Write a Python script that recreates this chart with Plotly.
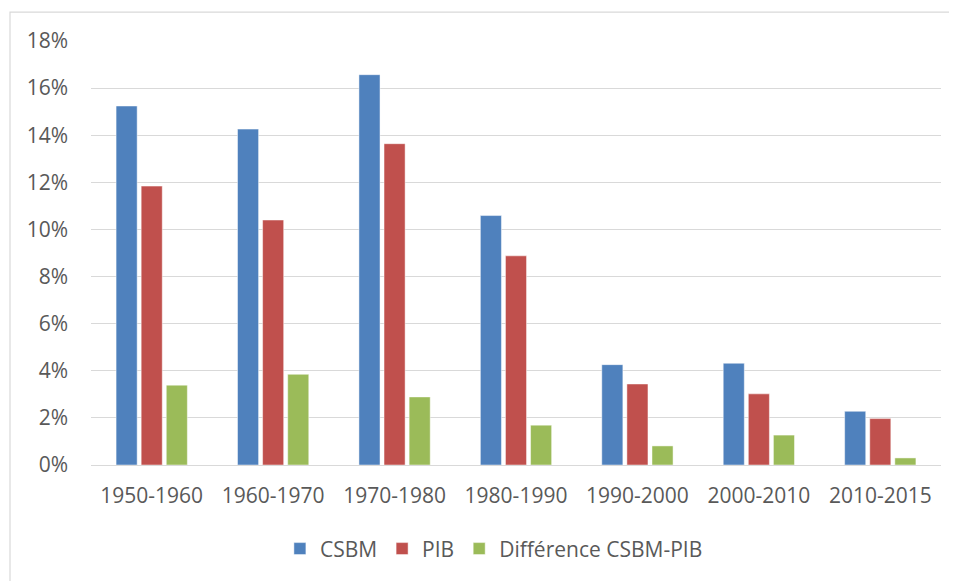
import plotly.graph_objects as go

categories = ["1950-1960", "1960-1970", "1970-1980", "1980-1990", "1990-2000", "2000-2010", "2010-2015"]
csbm = [0.1524, 0.1426, 0.1657, 0.1059, 0.0426, 0.0432, 0.0228]
pib = [0.1184, 0.1040, 0.1364, 0.0888, 0.0344, 0.0302, 0.0197]
diff = [0.0339, 0.0385, 0.0289, 0.0169, 0.0081, 0.0127, 0.0030]
y_ticks = [0, 0.02, 0.04, 0.06, 0.08, 0.10, 0.12, 0.14, 0.16, 0.18]

series_names = ["CSBM", "PIB", "Différence CSBM-PIB"]
colors = ["#4F81BD", "#C0504D", "#9BBB59"]

fig = go.Figure()
for name, vals, col in zip(series_names, [csbm, pib, diff], colors):
    fig.add_trace(go.Bar(
        x=categories, y=vals, name=name,
        marker=dict(color=col, line=dict(color="rgba(255,255,255,0.6)", width=0.8)),
    ))

font_family = "Open Sans, Liberation Sans, sans-serif"
text_color = "#595959"
fig.update_layout(
    width=949, height=573,
    margin=dict(l=83, r=16, t=33, b=116),
    paper_bgcolor="white", plot_bgcolor="white",
    barmode="group", bargap=0.38, bargroupgap=0.16,
    font=dict(family=font_family, size=21, color=text_color),
    showlegend=True,
    legend=dict(
        orientation="h", x=0.474, xanchor="center", y=-0.198, yanchor="middle",
        font=dict(size=21, color=text_color),
        itemwidth=30, tracegroupgap=0,
    ),
    xaxis=dict(
        showgrid=False, showline=True, linecolor="#D9D9D9", linewidth=1.2,
        ticks="", tickfont=dict(size=21, color=text_color),
        ticklabelstandoff=12,
    ),
    yaxis=dict(
        range=[0, 0.18], tickvals=y_ticks, tickformat=".0%",
        showgrid=True, gridcolor="#D9D9D9", gridwidth=1.2,
        zeroline=False, showline=False, ticks="",
        tickfont=dict(size=21, color=text_color),
        ticklabelstandoff=22,
    ),
    shapes=[dict(
        type="rect", xref="paper", yref="paper",
        x0=-0.0953, x1=1.2, y0=-0.6, y1=1.068,
        line=dict(color="#D9D9D9", width=1.2), fillcolor="rgba(0,0,0,0)",
        layer="below",
    )],
)

fig.write_html("out.html")
